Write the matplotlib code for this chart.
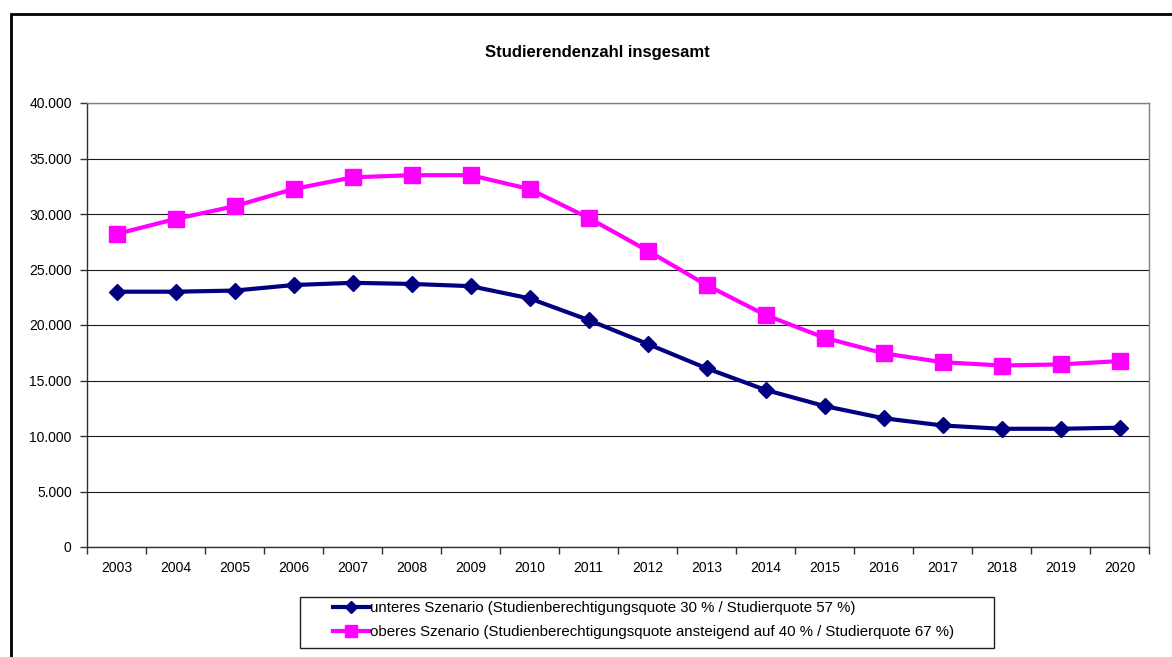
import matplotlib
matplotlib.use("Agg")
import matplotlib.pyplot as plt
from matplotlib.patches import Rectangle
from matplotlib.ticker import FuncFormatter, FixedLocator
import numpy as np

plt.rcParams['font.family'] = ['Liberation Sans', 'DejaVu Sans']

years = [2003, 2004, 2005, 2006, 2007, 2008, 2009, 2010, 2011, 2012,
         2013, 2014, 2015, 2016, 2017, 2018, 2019, 2020]
unteres = [23000, 23000, 23100, 23600, 23800, 23700, 23500, 22400, 20450, 18300,
           16100, 14150, 12700, 11600, 10950, 10650, 10650, 10750]
oberes = [28200, 29550, 30700, 32250, 33300, 33500, 33500, 32250, 29650, 26700,
          23600, 20900, 18850, 17450, 16650, 16350, 16450, 16750]
label_unteres = "unteres Szenario (Studienberechtigungsquote 30 % / Studierquote 57 %)"
label_oberes = "oberes Szenario (Studienberechtigungsquote ansteigend auf 40 % / Studierquote 67 %)"
title = "Studierendenzahl insgesamt"

W, H = 1172, 657
fig = plt.figure(figsize=(W / 100, H / 100), dpi=100)
fig.patch.set_facecolor('white')

# outer chart frame (left and top visible, extends past right/bottom edge)
fig.patches.append(Rectangle((10.5 / W, -0.2), 2.0, 1 - 14 / H + 0.2,
                             transform=fig.transFigure, fill=False,
                             edgecolor='black', linewidth=2.0, zorder=0))

ax = fig.add_axes([87 / W, 1 - 547 / H, (1149 - 87) / W, (547 - 103) / H])
x = np.arange(len(years))

l1, = ax.plot(x, unteres, color='#000080', linewidth=3, marker='D', markersize=8,
              label=label_unteres, zorder=3)
l2, = ax.plot(x, oberes, color='#FF00FF', linewidth=3, marker='s', markersize=11,
              label=label_oberes, zorder=3)

ax.set_xlim(-0.5, len(years) - 0.5)
ax.set_ylim(0, 40000)
ax.set_yticks(np.arange(0, 40001, 5000))
ax.yaxis.set_major_formatter(FuncFormatter(lambda v, p: f"{int(v):,}".replace(",", ".")))
ax.xaxis.set_major_locator(FixedLocator(np.arange(-0.5, len(years), 1.0)))
ax.xaxis.set_major_formatter(FuncFormatter(lambda v, p: ""))
ax.set_xticks(x, minor=True)
ax.set_xticklabels([str(y) for y in years], minor=True)
ax.tick_params(axis='x', which='minor', length=0, pad=10, labelsize=10)
ax.tick_params(axis='x', which='major', length=5, width=1, direction='out', color='#303030')
ax.tick_params(axis='y', length=5, width=1, direction='out', pad=6, labelsize=10, color='#303030')

ax.grid(axis='y', color='#1a1a1a', linewidth=0.8, zorder=1)
ax.set_axisbelow(True)
for s in ['left', 'bottom']:
    ax.spines[s].set_color('#303030')
    ax.spines[s].set_linewidth(1)
for s in ['top', 'right']:
    ax.spines[s].set_color('#808080')
    ax.spines[s].set_linewidth(1)

fig.text(597 / W, 1 - 52 / H, title, ha='center', va='center',
         fontsize=12, fontweight='bold')

# legend box
fig.patches.append(Rectangle((300 / W, 1 - 648 / H), (994 - 300) / W, (648 - 597) / H,
                             transform=fig.transFigure, fill=False,
                             edgecolor='#202020', linewidth=1, zorder=1))
leg = fig.legend(handles=[l1, l2], loc='center left',
                 bbox_to_anchor=(333 / W, 1 - 620 / H),
                 fontsize=10.8, frameon=False, borderaxespad=0, borderpad=0,
                 handlelength=2.4, handletextpad=0.1, labelspacing=0.65,
                 markerscale=0.8)

fig.savefig('out.png', dpi=100)
